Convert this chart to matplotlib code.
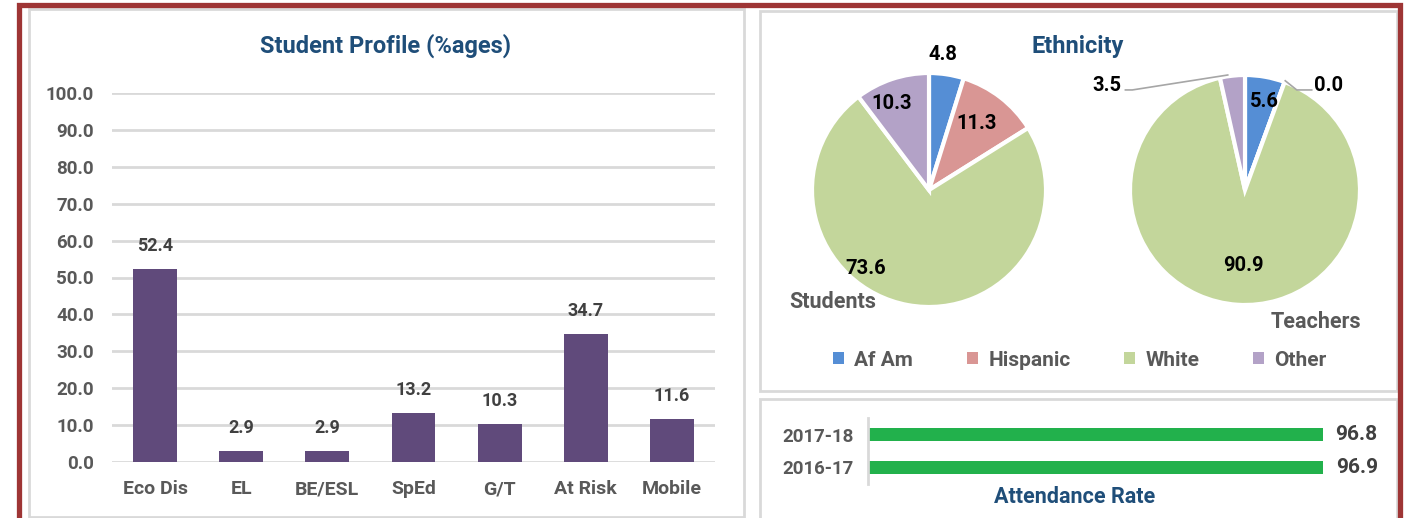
import matplotlib
matplotlib.use("Agg")
import matplotlib.pyplot as plt
from matplotlib.patches import Rectangle, Patch
import numpy as np

plt.rcParams['font.family'] = ['Roboto', 'DejaVu Sans']
plt.rcParams['font.weight'] = 'bold'

# data
profile_cats = ['Eco Dis', 'EL', 'BE/ESL', 'SpEd', 'G/T', 'At Risk', 'Mobile']
profile_vals = [52.4, 2.9, 2.9, 13.2, 10.3, 34.7, 11.6]

eth_groups = ['Af Am', 'Hispanic', 'White', 'Other']
students_eth = [4.8, 11.3, 73.6, 10.3]
teachers_eth = [5.6, 0.0, 90.9, 3.5]

att_years = ['2016-17', '2017-18']
att_rates = [96.9, 96.8]

# styles
W, H = 1405, 518
TITLE = '#1F4E79'
GREY = '#595959'
BAR = '#604A7B'
ETH_COLORS = ['#558ED5', '#D99694', '#C3D69B', '#B3A2C7']
GREEN = '#22B14C'
RED = '#9E3535'
BOX = '#D9D9D9'


def px(x0, y0, x1, y1):
    # pixel box (top-left origin) -> figure fraction rect
    return [x0 / W, 1 - y1 / H, (x1 - x0) / W, (y1 - y0) / H]


fig = plt.figure(figsize=(W / 100, H / 100), dpi=100)

# panel frames
for (x0, y0, x1, y1) in [(29, 9, 744, 517), (760, 11, 1397, 391), (760, 399, 1397, 530)]:
    fig.patches.append(Rectangle((x0 / W, 1 - y1 / H), (x1 - x0) / W, (y1 - y0) / H,
                                 transform=fig.transFigure, fill=False,
                                 edgecolor=BOX, linewidth=2))
# outer red border (open at bottom)
fig.add_artist(plt.Line2D([18.5 / W, 18.5 / W, 1400 / W, 1400 / W],
                          [0, 1 - 4.5 / H, 1 - 4.5 / H, 0],
                          transform=fig.transFigure, color=RED, linewidth=3.8,
                          solid_joinstyle='miter'))

# ---- Student profile bar chart
ax = fig.add_axes(px(112, 93, 715, 462))
x = np.arange(len(profile_cats))
bars = ax.bar(x, profile_vals, width=0.51, color=BAR, zorder=3)
ax.set_xlim(-0.5, len(profile_cats) - 0.5)
ax.set_ylim(0, 100)
ax.set_yticks(np.arange(0, 101, 10))
ax.set_yticklabels(['%.1f' % v for v in np.arange(0, 101, 10)])
ax.set_xticks(x)
ax.set_xticklabels(profile_cats)
ax.tick_params(length=0, labelsize=13.5, labelcolor=GREY, pad=13)
ax.tick_params(axis='x', labelsize=14, pad=13)
ax.yaxis.grid(True, color=BOX, linewidth=2, zorder=0)
for s in ax.spines.values():
    s.set_visible(False)
for b, v in zip(bars, profile_vals):
    ax.annotate('%.1f' % v, (b.get_x() + b.get_width() / 2, v),
                xytext=(0, 10), textcoords='offset points', ha='center',
                va='bottom', fontsize=13, color='#404040')
fig.text(386 / W, 1 - 46 / H, 'Student Profile (%ages)', ha='center', va='center',
         fontsize=17, color=TITLE)

# ---- Ethnicity pies
fig.text(1078 / W, 1 - 46 / H, 'Ethnicity', ha='center', va='center',
         fontsize=17, color=TITLE)


def draw_pie(cx, cy, r, vals, label_pos, name, name_xy):
    half = 150
    a = fig.add_axes(px(cx - half, cy - half, cx + half, cy + half))
    a.pie(vals, colors=ETH_COLORS, startangle=90, counterclock=False,
          wedgeprops=dict(edgecolor='white', linewidth=3))
    a.set_xlim(-half / r, half / r)
    a.set_ylim(-half / r, half / r)
    a.set_aspect('equal')
    a.axis('off')
    for v, (lx, ly) in zip(vals, label_pos):
        a.text(lx, ly, '%.1f' % v, ha='center', va='center', fontsize=14.5,
               color='black')
    fig.text(name_xy[0] / W, 1 - name_xy[1] / H, name, ha='center', va='center',
             fontsize=15.5, color=GREY)
    return a


# label positions in pie radius units
stu_pos = [(0.12, 1.16), (0.41, 0.57), (-0.54, -0.67), (-0.32, 0.74)]
tea_pos = [(0.17, 0.77), (0.73, 0.91), (-0.01, -0.66), (-1.20, 0.91)]

draw_pie(929, 190, 117, students_eth, stu_pos, 'Students', (833, 302))
ta = draw_pie(1245, 190, 115, teachers_eth, tea_pos, 'Teachers', (1316, 322))
# leader lines for the small teacher slices
ta.plot([0.35, 0.45, 0.58], [0.95, 0.87, 0.87], color='#A6A6A6', linewidth=1.2)
ta.plot([-0.15, -0.98, -1.04], [1.00, 0.87, 0.87], color='#A6A6A6', linewidth=1.2)

handles = [Patch(facecolor=c, edgecolor='none') for c in ETH_COLORS]
fig.legend(handles, eth_groups, loc='center', bbox_to_anchor=(1080 / W, 1 - 360 / H),
           ncol=4, frameon=False, fontsize=15, labelcolor=GREY, handlelength=0.5,
           handleheight=0.5, handletextpad=0.5, columnspacing=2.6)

# ---- Attendance rate
aa = fig.add_axes(px(868, 418, 1338, 484))
y = np.arange(len(att_years))
hb = aa.barh(y, att_rates, height=0.4, color=GREEN)
aa.set_xlim(0, 100)
aa.set_ylim(-0.5, 1.5)
aa.set_yticks(y)
aa.set_yticklabels(att_years)
aa.set_xticks([])
aa.tick_params(length=0, labelsize=13.5, labelcolor=GREY, pad=10)
for s in ['top', 'right', 'bottom']:
    aa.spines[s].set_visible(False)
aa.spines['left'].set_color(BOX)
aa.spines['left'].set_linewidth(2)
for b, v in zip(hb, att_rates):
    aa.annotate('%.1f' % v, (v, b.get_y() + b.get_height() / 2), xytext=(9, 0),
                textcoords='offset points', ha='left', va='center', fontsize=15,
                color='#404040')
fig.text(1075 / W, 1 - 497 / H, 'Attendance Rate', ha='center', va='center',
         fontsize=15.5, color=TITLE)

fig.savefig('out.png', dpi=100)
